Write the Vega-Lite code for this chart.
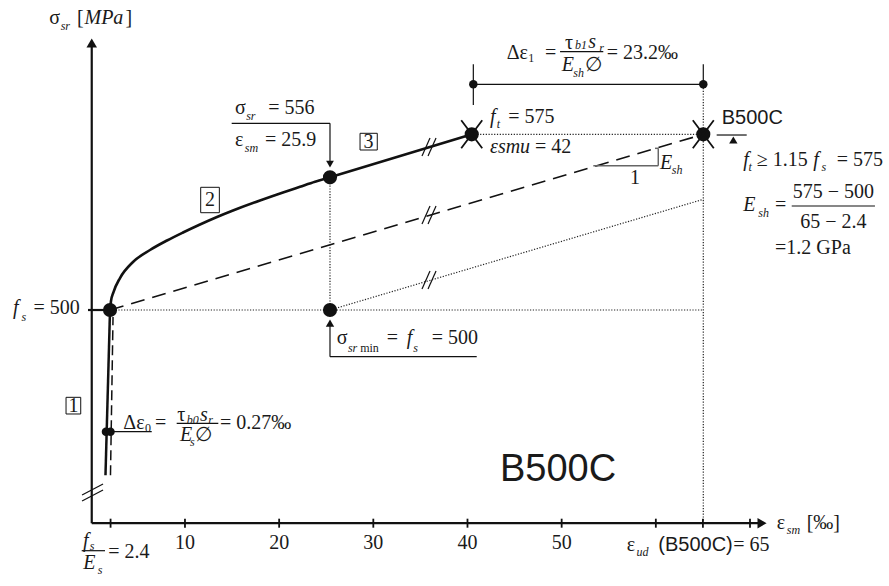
{
  "$schema": "https://vega.github.io/schema/vega-lite/v6.json",
  "width": 889,
  "height": 586,
  "autosize": "none",
  "padding": 0,
  "background": "white",
  "config": {"view": {"stroke": null}},
  "datasets": {
    "curve": [
      {"x": 2.039, "y": 500}, {"x": 2.145, "y": 503.84}, {"x": 2.411, "y": 507.68},
      {"x": 3.101, "y": 513.66}, {"x": 4.481, "y": 520.49}, {"x": 6.287, "y": 525.61},
      {"x": 8.092, "y": 529.67}, {"x": 9.791, "y": 533.08}, {"x": 11.596, "y": 536.5},
      {"x": 13.401, "y": 539.7}, {"x": 15.1, "y": 542.47}, {"x": 17.967, "y": 546.74},
      {"x": 20.41, "y": 550.16}, {"x": 22.215, "y": 552.59}, {"x": 23.808, "y": 554.72},
      {"x": 25.4, "y": 556.64}, {"x": 40.45, "y": 575}
    ],
    "axisSegs": [
      {"x": 0.1, "y": 409, "x2": 0.1, "y2": 614.5},
      {"x": 0.1, "y": 409, "x2": 71.3, "y2": 409},
      {"x": -0.3, "y": 500, "x2": 2.0, "y2": 500}
    ],
    "thickSegs": [
      {"x": 1.56, "y": 429.5, "x2": 2.04, "y2": 500}
    ],
    "thinSegs": [
      {"x": -0.93, "y": 421.03, "x2": 1.3, "y2": 425.73},
      {"x": -0.93, "y": 418.47, "x2": 1.3, "y2": 423.16},
      {"x": 35.17, "y": 565.74, "x2": 36.02, "y2": 573.42},
      {"x": 35.81, "y": 565.74, "x2": 36.66, "y2": 573.42},
      {"x": 35.17, "y": 536.71, "x2": 36.02, "y2": 544.39},
      {"x": 35.81, "y": 536.71, "x2": 36.66, "y2": 544.39},
      {"x": 35.17, "y": 508.96, "x2": 36.02, "y2": 516.65},
      {"x": 35.81, "y": 508.96, "x2": 36.66, "y2": 516.65},
      {"x": 1.86, "y": 448.05, "x2": 6.47, "y2": 448.05},
      {"x": 14.96, "y": 579.7, "x2": 25.4, "y2": 579.7},
      {"x": 25.4, "y": 579.7, "x2": 25.4, "y2": 562.6},
      {"x": 25.4, "y": 494.88, "x2": 25.4, "y2": 480.07},
      {"x": 25.4, "y": 480.07, "x2": 40.98, "y2": 480.07},
      {"x": 40.62, "y": 596.34, "x2": 65.04, "y2": 596.34},
      {"x": 40.62, "y": 604.88, "x2": 40.62, "y2": 587.51},
      {"x": 65.04, "y": 604.88, "x2": 65.04, "y2": 596.34},
      {"x": 66.46, "y": 574.7, "x2": 69.65, "y2": 574.7},
      {"x": -0.966, "y": 397.26, "x2": 1.508, "y2": 397.26},
      {"x": 9.12, "y": 451.64, "x2": 13.54, "y2": 451.64},
      {"x": 49.83, "y": 610.26, "x2": 54.42, "y2": 610.26},
      {"x": 74.43, "y": 544.39, "x2": 83.27, "y2": 544.39}
    ],
    "graySegs": [
      {"x": 53.36, "y": 561.6, "x2": 60.26, "y2": 561.6},
      {"x": 60.26, "y": 561.6, "x2": 60.26, "y2": 569.02},
      {"x": 59.91, "y": 569.02, "x2": 60.26, "y2": 569.02}
    ],
    "dashedSegs": [
      {"x": 2.04, "y": 500, "x2": 65.04, "y2": 575}
    ],
    "dashedVert": [
      {"x": 2.09, "y": 429.5, "x2": 2.36, "y2": 497}
    ],
    "dottedSegs": [
      {"x": 2.04, "y": 500, "x2": 65.04, "y2": 500},
      {"x": 40.45, "y": 575, "x2": 65.04, "y2": 575},
      {"x": 25.4, "y": 500, "x2": 25.4, "y2": 556.64},
      {"x": 65.04, "y": 409, "x2": 65.04, "y2": 596.34},
      {"x": 25.4, "y": 500, "x2": 65.04, "y2": 547.25}
    ],
    "boxes": [
      {"x": -2.63, "y": 455.61, "x2": -1.07, "y2": 462.73},
      {"x": 11.67, "y": 541.53, "x2": 13.65, "y2": 552.38},
      {"x": 28.59, "y": 568.3, "x2": 30.42, "y2": 575.43}
    ],
    "ticks": [
      {"x": 2.1, "y": 409}, {"x": 10, "y": 409}, {"x": 20, "y": 409}, {"x": 30, "y": 409},
      {"x": 40, "y": 409}, {"x": 50, "y": 409}, {"x": 60, "y": 409}, {"x": 65, "y": 409}, {"x": 70, "y": 409}
    ],
    "bigDots": [
      {"x": 2.04, "y": 500}, {"x": 25.4, "y": 556.64}, {"x": 40.45, "y": 575},
      {"x": 65.04, "y": 575}, {"x": 25.4, "y": 500}
    ],
    "smallDots": [
      {"x": 40.62, "y": 596.34}, {"x": 65.04, "y": 596.34},
      {"x": 1.61, "y": 448.05}, {"x": 2.09, "y": 448.05}
    ],
    "crosses": [{"x": 40.45, "y": 575}, {"x": 65.04, "y": 575}],
    "triUp": [{"x": 25.4, "y": 494.4}, {"x": 68.23, "y": 572.57}],
    "triDown": [{"x": 25.4, "y": 562.3}],
    "arrowUp": [{"x": 0.1, "y": 614}],
    "arrowRight": [{"x": 71.28, "y": 409}],
    "tCenter": [
      {"x": 10, "y": 400.54, "t": "10"}, {"x": 20, "y": 400.54, "t": "20"},
      {"x": 30, "y": 400.54, "t": "30"}, {"x": 40, "y": 400.54, "t": "40"},
      {"x": 50, "y": 400.54, "t": "50"},
      {"x": -1.85, "y": 459.17, "t": "1"}, {"x": 12.66, "y": 546.95, "t": "2"},
      {"x": 29.5, "y": 571.87, "t": "3"},
      {"x": 57.79, "y": 556.35, "t": "1"},
      {"x": 78.85, "y": 550.5, "t": "575 − 500"},
      {"x": 78.85, "y": 537.69, "t": "65 − 2.4"}
    ],
    "tReg": [
      {"x": -4.41, "y": 624.5, "t": "σ"}, {"x": -1.47, "y": 624.5, "t": "["},
      {"x": 3.68, "y": 624.5, "t": "]"},
      {"x": -6.08, "y": 500.85, "t": "= 500"},
      {"x": 1.86, "y": 396.83, "t": "= 2.4"},
      {"x": 56.91, "y": 399.69, "t": "ε"}, {"x": 68.23, "y": 399.69, "t": "= 65"},
      {"x": 72.84, "y": 408.95, "t": "ε"}, {"x": 76.02, "y": 408.95, "t": "[‰]"},
      {"x": 3.45, "y": 451.64, "t": "Δε"}, {"x": 6.82, "y": 451.64, "t": "="},
      {"x": 9.19, "y": 455.18, "t": "τ"}, {"x": 11.07, "y": 446.64, "t": "∅"},
      {"x": 13.72, "y": 451.64, "t": "= 0.27‰"},
      {"x": 15.31, "y": 586.1, "t": "σ"}, {"x": 18.85, "y": 586.1, "t": "= 556"},
      {"x": 15.31, "y": 572.57, "t": "ε"}, {"x": 18.5, "y": 572.57, "t": "= 25.9"},
      {"x": 26.11, "y": 487.92, "t": "σ"}, {"x": 31.42, "y": 487.92, "t": "="},
      {"x": 36.2, "y": 487.92, "t": "= 500"},
      {"x": 44.17, "y": 609.58, "t": "Δε"}, {"x": 48.23, "y": 609.58, "t": "="},
      {"x": 50.36, "y": 613.84, "t": "τ"}, {"x": 52.48, "y": 604.58, "t": "∅"},
      {"x": 54.78, "y": 609.58, "t": "= 23.2‰"},
      {"x": 44.33, "y": 582.51, "t": "= 575"},
      {"x": 47.17, "y": 569.71, "t": "= 42"},
      {"x": 70.71, "y": 564.03, "t": "≥ 1.15"},
      {"x": 79.21, "y": 564.03, "t": "= 575"},
      {"x": 72.66, "y": 544.82, "t": "="},
      {"x": 72.66, "y": 526.34, "t": "=1.2 GPa"}
    ],
    "tIt": [
      {"x": -0.67, "y": 624.5, "t": "MPa"},
      {"x": -8.26, "y": 500.85, "t": "f"},
      {"x": -0.83, "y": 401.6, "t": "f"}, {"x": -0.8, "y": 392.2, "t": "E"},
      {"x": 11.6, "y": 455.18, "t": "s"}, {"x": 9.47, "y": 446.64, "t": "E"},
      {"x": 33.55, "y": 487.92, "t": "f"},
      {"x": 52.83, "y": 614.53, "t": "s"}, {"x": 50.0, "y": 604.58, "t": "E"},
      {"x": 42.39, "y": 582.51, "t": "f"},
      {"x": 42.39, "y": 569.71, "t": "εsmu"},
      {"x": 69.29, "y": 564.03, "t": "f"}, {"x": 76.72, "y": 564.03, "t": "f"},
      {"x": 69.29, "y": 544.82, "t": "E"},
      {"x": 60.44, "y": 562.62, "t": "E"}
    ],
    "tSub": [
      {"x": -3.2, "y": 621.2, "t": "sr"},
      {"x": -7.35, "y": 497.0, "t": "s"},
      {"x": -0.1, "y": 399.3, "t": "s"}, {"x": 0.75, "y": 389.0, "t": "s"},
      {"x": 57.95, "y": 396.83, "t": "ud"},
      {"x": 73.9, "y": 406.09, "t": "sm"},
      {"x": 10.18, "y": 453.05, "t": "b0"}, {"x": 12.48, "y": 453.05, "t": "r"},
      {"x": 10.53, "y": 443.78, "t": "s"},
      {"x": 16.5, "y": 582.81, "t": "sr"}, {"x": 16.35, "y": 569.02, "t": "sm"},
      {"x": 27.3, "y": 483.65, "t": "sr"}, {"x": 34.25, "y": 483.65, "t": "s"},
      {"x": 51.42, "y": 613.12, "t": "b1"}, {"x": 54.0, "y": 611.71, "t": "r"},
      {"x": 51.24, "y": 601.04, "t": "sh"},
      {"x": 43.1, "y": 579.4, "t": "t"},
      {"x": 69.85, "y": 561.17, "t": "t"}, {"x": 77.6, "y": 561.17, "t": "s"},
      {"x": 70.88, "y": 541.28, "t": "sh"},
      {"x": 61.69, "y": 559.77, "t": "sh"}
    ],
    "tSubReg": [
      {"x": 5.75, "y": 449.5, "t": "0"},
      {"x": 46.45, "y": 607.57, "t": "1"},
      {"x": 28.6, "y": 483.65, "t": "min"}
    ],
    "tSans": [
      {"x": 60.26, "y": 399.69, "t": "(B500C)"},
      {"x": 67.0, "y": 581.83, "t": "B500C"}
    ],
    "tSansBig": [
      {"x": 43.45, "y": 431.7, "t": "B500C"}
    ]
  },
  "encoding": {
    "x": {"field": "x", "type": "quantitative", "scale": {"domain": [-9.642, 84.76], "nice": false, "zero": false}, "axis": null},
    "y": {"field": "y", "type": "quantitative", "scale": {"domain": [382.19, 632.33], "nice": false, "zero": false}, "axis": null}
  },
  "layer": [
    {"data": {"name": "dottedSegs"}, "mark": {"type": "rule", "strokeDash": [1.2, 1.6], "strokeWidth": 1.2, "color": "#222"}, "encoding": {"x2": {"field": "x2"}, "y2": {"field": "y2"}}},
    {"data": {"name": "dashedSegs"}, "mark": {"type": "rule", "strokeDash": [14, 8], "strokeWidth": 1.6, "color": "#111"}, "encoding": {"x2": {"field": "x2"}, "y2": {"field": "y2"}}},
    {"data": {"name": "dashedVert"}, "mark": {"type": "rule", "strokeDash": [10, 5], "strokeWidth": 1.5, "color": "#111"}, "encoding": {"x2": {"field": "x2"}, "y2": {"field": "y2"}}},
    {"data": {"name": "graySegs"}, "mark": {"type": "rule", "strokeWidth": 1.5, "color": "#666"}, "encoding": {"x2": {"field": "x2"}, "y2": {"field": "y2"}}},
    {"data": {"name": "thinSegs"}, "mark": {"type": "rule", "strokeWidth": 1.2, "color": "#111"}, "encoding": {"x2": {"field": "x2"}, "y2": {"field": "y2"}}},
    {"data": {"name": "axisSegs"}, "mark": {"type": "rule", "strokeWidth": 2.2, "color": "#111"}, "encoding": {"x2": {"field": "x2"}, "y2": {"field": "y2"}}},
    {"data": {"name": "thickSegs"}, "mark": {"type": "rule", "strokeWidth": 2.5, "color": "#111"}, "encoding": {"x2": {"field": "x2"}, "y2": {"field": "y2"}}},
    {"data": {"name": "curve"}, "mark": {"type": "line", "interpolate": "monotone", "strokeWidth": 2.6, "color": "#111"}},
    {"data": {"name": "boxes"}, "mark": {"type": "rect", "fill": null, "fillOpacity": 0, "stroke": "#111", "strokeWidth": 1}, "encoding": {"x2": {"field": "x2"}, "y2": {"field": "y2"}}},
    {"data": {"name": "ticks"}, "mark": {"type": "tick", "orient": "vertical", "size": 9, "thickness": 1.8, "color": "#111", "opacity": 1}},
    {"data": {"name": "bigDots"}, "mark": {"type": "point", "shape": "circle", "filled": true, "size": 200, "color": "#111", "opacity": 1}},
    {"data": {"name": "smallDots"}, "mark": {"type": "point", "shape": "circle", "filled": true, "size": 72, "color": "#111", "opacity": 1}},
    {"data": {"name": "crosses"}, "mark": {"type": "point", "shape": "M-0.75,-1L0.75,1M0.75,-1L-0.75,1", "filled": false, "size": 784, "color": "#111", "strokeWidth": 1.8, "opacity": 1}},
    {"data": {"name": "triUp"}, "mark": {"type": "point", "shape": "triangle-up", "filled": true, "size": 70, "color": "#111", "opacity": 1}},
    {"data": {"name": "triDown"}, "mark": {"type": "point", "shape": "triangle-down", "filled": true, "size": 60, "color": "#111", "opacity": 1}},
    {"data": {"name": "arrowUp"}, "mark": {"type": "point", "shape": "triangle-up", "filled": true, "size": 110, "color": "#111", "opacity": 1}},
    {"data": {"name": "arrowRight"}, "mark": {"type": "point", "shape": "triangle-right", "filled": true, "size": 110, "color": "#111", "opacity": 1}},
    {"data": {"name": "tCenter"}, "mark": {"type": "text", "font": "Liberation Serif", "fontSize": 20, "align": "center", "baseline": "middle", "color": "#1a1a1a"}, "encoding": {"text": {"field": "t"}}},
    {"data": {"name": "tReg"}, "mark": {"type": "text", "font": "Liberation Serif", "fontSize": 20, "align": "left", "baseline": "middle", "color": "#1a1a1a"}, "encoding": {"text": {"field": "t"}}},
    {"data": {"name": "tIt"}, "mark": {"type": "text", "font": "Liberation Serif", "fontStyle": "italic", "fontSize": 20, "align": "left", "baseline": "middle", "color": "#1a1a1a"}, "encoding": {"text": {"field": "t"}}},
    {"data": {"name": "tSub"}, "mark": {"type": "text", "font": "Liberation Serif", "fontStyle": "italic", "fontSize": 12, "align": "left", "baseline": "middle", "color": "#1a1a1a"}, "encoding": {"text": {"field": "t"}}},
    {"data": {"name": "tSubReg"}, "mark": {"type": "text", "font": "Liberation Serif", "fontSize": 12, "align": "left", "baseline": "middle", "color": "#1a1a1a"}, "encoding": {"text": {"field": "t"}}},
    {"data": {"name": "tSans"}, "mark": {"type": "text", "font": "Liberation Sans", "fontSize": 20, "align": "left", "baseline": "middle", "color": "#1a1a1a"}, "encoding": {"text": {"field": "t"}}},
    {"data": {"name": "tSansBig"}, "mark": {"type": "text", "font": "Liberation Sans", "fontSize": 38, "align": "left", "baseline": "middle", "color": "#1a1a1a"}, "encoding": {"text": {"field": "t"}}}
  ]
}
